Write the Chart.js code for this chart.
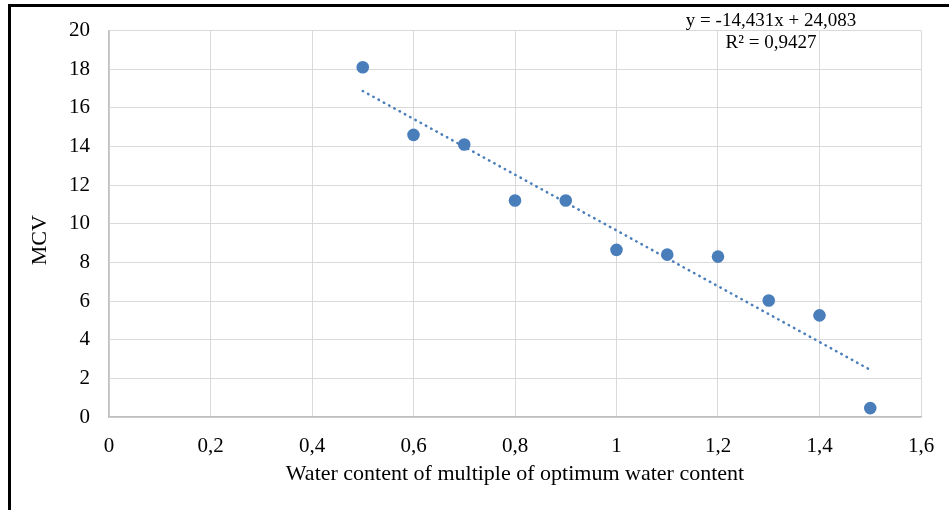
<!DOCTYPE html>
<html>
<head>
<meta charset="utf-8">
<script src="https://cdn.jsdelivr.net/npm/chart.js@4"></script>
<style>
    html, body { margin: 0; padding: 0; background: #fff; }
    #wrap { position: relative; width: 949px; height: 510px; overflow: hidden; }
    #frame { position: absolute; left: 8px; top: 4px; width: 1000px; height: 600px; border-left: 3px solid #000; border-top: 3px solid #000; }
    canvas { position: absolute; left: 0; top: 0; }
</style>
</head>
<body>
<div id="wrap">
    <div id="frame"></div>
    <canvas id="chart" width="949" height="510"></canvas>
</div>
<script>
    const xValues = [0.5, 0.6, 0.7, 0.8, 0.9, 1.0, 1.1, 1.2, 1.3, 1.4, 1.5];
    const mcvValues = [18.1, 14.6, 14.1, 11.2, 11.2, 8.65, 8.4, 8.3, 6.03, 5.26, 0.46];

    // trendline end points as shown (y = -14,431x + 24,083)
    const trendX = [0.5, 1.5];
    const trendY = [16.87, 2.44];

    const xTickValues = [0, 0.2, 0.4, 0.6, 0.8, 1, 1.2, 1.4, 1.6];
    const xTickLabels = ['0', '0,2', '0,4', '0,6', '0,8', '1', '1,2', '1,4', '1,6'];
    const yTickValues = [0, 2, 4, 6, 8, 10, 12, 14, 16, 18, 20];
    const yTickLabels = ['0', '2', '4', '6', '8', '10', '12', '14', '16', '18', '20'];

    const equationText = 'y = -14,431x + 24,083';
    const r2Text = 'R² = 0,9427';

    const FONT = "'Liberation Serif', 'Times New Roman', serif";
    const BLUE = '#4a7ebb';

    const equationLabel = {
        id: 'equationLabel',
        afterDraw(chart) {
            const ctx = chart.ctx;
            ctx.save();
            ctx.fillStyle = '#000';
            ctx.font = '19px ' + FONT;
            ctx.textAlign = 'center';
            ctx.textBaseline = 'middle';
            ctx.fillText(equationText, 771, 21);
            ctx.fillText(r2Text, 771, 43);
            ctx.restore();
        }
    };

    const ctx = document.getElementById('chart').getContext('2d');
    new Chart(ctx, {
        type: 'scatter',
        data: {
            datasets: [
                {
                    data: xValues.map((x, i) => ({ x, y: mcvValues[i] })),
                    backgroundColor: BLUE,
                    borderColor: BLUE,
                    borderWidth: 0,
                    pointRadius: 6.3,
                    order: 1
                },
                {
                    data: trendX.map((x, i) => ({ x, y: trendY[i] })),
                    showLine: true,
                    borderColor: BLUE,
                    borderWidth: 2.5,
                    borderDash: [0.5, 5.5],
                    borderCapStyle: 'round',
                    pointRadius: 0,
                    order: 2
                }
            ]
        },
        options: {
            responsive: false,
            animation: false,
            events: [],
            layout: { padding: { left: 10, top: 30.5, right: 28, bottom: 0 } },
            plugins: { legend: { display: false }, tooltip: { enabled: false } },
            scales: {
                x: {
                    type: 'linear',
                    min: 0,
                    max: 1.6,
                    afterBuildTicks: s => { s.ticks = xTickValues.map(v => ({ value: v })); },
                    afterFit: s => { s.height = 93; s.paddingLeft = 0; s.paddingRight = 0; },
                    ticks: {
                        color: '#000',
                        font: { family: FONT, size: 21 },
                        padding: 17,
                        maxRotation: 0,
                        callback: (v, i) => xTickLabels[i]
                    },
                    grid: { color: '#d9d9d9', lineWidth: 1, drawTicks: false },
                    border: { color: '#bfbfbf', width: 1.5 },
                    title: {
                        display: true,
                        text: 'Water content of multiple of optimum water content',
                        color: '#000',
                        font: { family: FONT, size: 22 },
                        padding: { top: 0, bottom: 23 }
                    }
                },
                y: {
                    min: 0,
                    max: 20,
                    afterBuildTicks: s => { s.ticks = yTickValues.map(v => ({ value: v })); },
                    afterFit: s => { s.width = 99; s.paddingTop = 0; s.paddingBottom = 0; },
                    ticks: {
                        color: '#000',
                        font: { family: FONT, size: 21 },
                        padding: 19,
                        callback: (v, i) => yTickLabels[i]
                    },
                    grid: { color: '#d9d9d9', lineWidth: 1, drawTicks: false },
                    border: { color: '#bfbfbf', width: 1.5 },
                    title: {
                        display: true,
                        // trailing spaces push the word down, as in the original
                        text: 'MCV      ',
                        color: '#000',
                        font: { family: FONT, size: 22 },
                        padding: { top: 17, bottom: 0 }
                    }
                }
            }
        },
        plugins: [equationLabel]
    });
</script>
</body>
</html>
